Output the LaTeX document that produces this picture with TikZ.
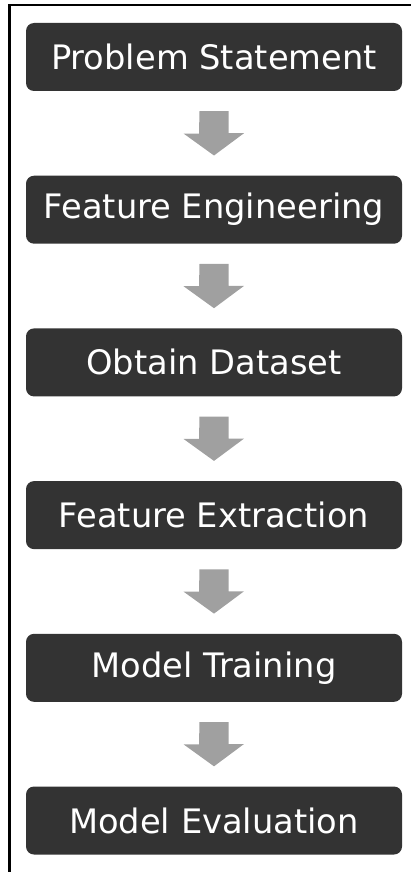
\documentclass[tikz,border=0pt]{standalone}
\usepackage{fontspec}
\setmainfont{DejaVu Sans}
\definecolor{boxfill}{HTML}{333333}
\definecolor{arrowgray}{HTML}{A0A0A0}
\begin{document}
\begin{tikzpicture}[x=1pt,y=-1pt,
  stagebox/.style={draw=none,fill=boxfill,rounded corners=8pt,minimum width=376pt,minimum height=68pt,inner sep=0pt,text=white,font=\fontsize{33.7}{40}\selectfont},
  blockarrow/.style={fill=arrowgray,draw=none}]
\useasboundingbox (0,0) rectangle (411,872);
\draw[line width=2.2pt] (9.5,880) -- (9.5,5) -- (420,5);
\node[stagebox] (s1) at (214,57) {Problem Statement};
\node[stagebox] (s2) at (214,209.7) {Feature Engineering};
\node[stagebox] (s3) at (214,362.4) {Obtain Dataset};
\node[stagebox] (s4) at (214,515.1) {Feature Extraction};
\node[stagebox] (s5) at (214,667.8) {Model Training};
\node[stagebox] (s6) at (214,820.5) {Model Evaluation};
\foreach \a/\b in {s1/s2,s2/s3,s3/s4,s4/s5,s5/s6}{
  \fill[blockarrow] ([yshift=-20pt]\a.south) ++(-14.5,0) -- ++(29,0) -- ++(0,22) -- ++(15.5,0) -- ([yshift=20pt]\b.north) -- ++(-30.5,-22) -- ++(15.5,0) -- cycle;
}
\end{tikzpicture}
\end{document}
